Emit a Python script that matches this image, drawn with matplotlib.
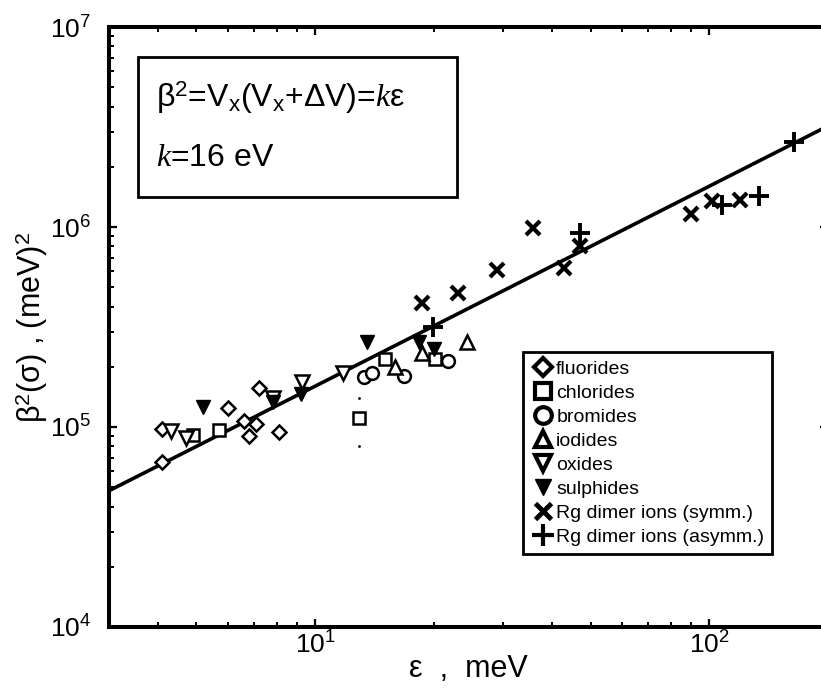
import numpy as np
import matplotlib
matplotlib.use("Agg")
import matplotlib.pyplot as plt
from matplotlib.lines import Line2D
from matplotlib.patches import Rectangle

plt.rcParams['font.family'] = ['Liberation Sans', 'DejaVu Sans']
plt.rcParams['mathtext.fontset'] = 'custom'
plt.rcParams['mathtext.rm'] = 'Liberation Sans'
plt.rcParams['mathtext.it'] = 'Liberation Serif:italic'
plt.rcParams['mathtext.bf'] = 'Liberation Sans:bold'

# eps [meV], beta^2 [meV^2]
fluor_x = [4.1, 4.1, 6.0, 6.6, 7.07, 6.8, 7.2, 8.1]
fluor_y = [6.7e4, 9.8e4, 1.25e5, 1.07e5, 1.03e5, 9.0e4, 1.56e5, 9.4e4]

chlor_x = [4.9, 5.7, 12.9, 15.0, 20.2]
chlor_y = [9.1e4, 9.7e4, 1.11e5, 2.18e5, 2.2e5]
chlor_err_x = [12.9, 12.9]
chlor_err_y = [1.40e5, 8.0e4]

brom_x = [13.3, 13.9, 16.8, 21.7]
brom_y = [1.78e5, 1.87e5, 1.8e5, 2.14e5]

iod_x = [15.9, 18.7, 24.3]
iod_y = [2.0e5, 2.34e5, 2.67e5]

oxide_x = [4.3, 4.7, 7.8, 9.25, 11.8]
oxide_y = [9.5e4, 8.8e4, 1.40e5, 1.67e5, 1.87e5]

sulph_x = [5.2, 7.8, 9.2, 13.5, 18.3, 20.0]
sulph_y = [1.26e5, 1.33e5, 1.47e5, 2.67e5, 2.67e5, 2.45e5]

symm_x = [18.7, 23.0, 28.9, 35.6, 42.9, 47.0, 89.9, 101.6, 119.9]
symm_y = [4.18e5, 4.69e5, 6.1e5, 9.85e5, 6.22e5, 8.04e5, 1.16e6, 1.35e6, 1.365e6]

asym_x = [19.9, 46.9, 107.7, 133.4, 164.4]
asym_y = [3.15e5, 9.3e5, 1.29e6, 1.43e6, 2.67e6]

# fit beta^2 = k*eps, k = 16 eV = 16000 meV
fit_x = [3.0, 200.0]
fit_y = [4.8e4, 3.2e6]

fig = plt.figure(figsize=(8.21, 6.89), dpi=100)
ax = fig.add_axes([109 / 821, 62 / 689, 719 / 821, 600 / 689])
ax.set_xscale("log")
ax.set_yscale("log")
ax.set_xlim(3, 200)
ax.set_ylim(1e4, 1e7)

ax.plot(fit_x, fit_y, color="black", lw=2.6, zorder=2)

open_kw = dict(ls="none", mfc="white", mec="black", mew=1.8, zorder=3)
ax.plot(fluor_x, fluor_y, marker="D", ms=6.8, **open_kw)
ax.plot(chlor_x, chlor_y, marker="s", ms=8.6, **open_kw)
ax.plot(brom_x, brom_y, marker="o", ms=9.2, **open_kw)
ax.plot(iod_x, iod_y, marker="^", ms=9.6, **open_kw)
ax.plot(oxide_x, oxide_y, marker="v", ms=9.6, **open_kw)
ax.plot(sulph_x, sulph_y, marker="v", ms=10, ls="none", color="black", zorder=4)
ax.plot(symm_x, symm_y, marker="x", ms=10, mew=3.0, ls="none", color="black", zorder=4)
ax.plot(asym_x, asym_y, marker="+", ms=14, mew=2.8, ls="none", color="black", zorder=4)
ax.plot(chlor_err_x, chlor_err_y, marker=".", ms=2, ls="none", color="black")

for s in ax.spines.values():
    s.set_linewidth(2.9)
ax.tick_params(which="both", direction="in", top=True, right=True, colors="black")
ax.tick_params(which="major", length=6, width=1.6, labelsize=19)
ax.tick_params(which="minor", length=3.5, width=1.4)
ax.tick_params(axis="y", which="major", pad=13)
ax.tick_params(axis="x", which="major", pad=3)

ax.set_xlabel("ε  ,  meV", fontsize=22, labelpad=-3)
ax.set_ylabel(r"$\mathrm{\beta}^2(\mathrm{\sigma})$ , (meV)$^2$", fontsize=22, labelpad=0)

# formula box
ax.add_patch(Rectangle((0.0403, 0.7167), 0.4437, 0.2333, transform=ax.transAxes,
                       fill=False, ec="black", lw=2.0, zorder=5))
ax.text(0.0654, 0.883, r"$\mathrm{\beta}^2$=V$_\mathrm{x}$(V$_\mathrm{x}$+$\mathrm{\Delta}$V)=$k$ε",
        transform=ax.transAxes, fontsize=23, va="center", ha="left")
ax.text(0.0654, 0.782, r"$k$=16 eV", transform=ax.transAxes, fontsize=23,
        va="center", ha="left")

handles = [
    Line2D([], [], marker="D", ms=9, mfc="white", mec="black", mew=3, ls="none"),
    Line2D([], [], marker="s", ms=11, mfc="white", mec="black", mew=3, ls="none"),
    Line2D([], [], marker="o", ms=12, mfc="white", mec="black", mew=3, ls="none"),
    Line2D([], [], marker="^", ms=12, mfc="white", mec="black", mew=3, ls="none"),
    Line2D([], [], marker="v", ms=12, mfc="white", mec="black", mew=3, ls="none"),
    Line2D([], [], marker="v", ms=12, color="black", ls="none"),
    Line2D([], [], marker="x", ms=12, mew=3.5, color="black", ls="none"),
    Line2D([], [], marker="+", ms=16, mew=3.0, color="black", ls="none"),
]
labels = ["fluorides", "chlorides", "bromides", "iodides", "oxides",
          "sulphides", "Rg dimer ions (symm.)", "Rg dimer ions (asymm.)"]
leg = ax.legend(handles, labels, loc="upper left", bbox_to_anchor=(0.576, 0.458),
                borderaxespad=0, fontsize=14, frameon=True, fancybox=False,
                framealpha=1, edgecolor="black", borderpad=0.4, labelspacing=0.33,
                handlelength=1.2, handletextpad=0.1)
leg.get_frame().set_linewidth(2.0)
leg.set_zorder(6)

fig.savefig("out.png", dpi=100)
